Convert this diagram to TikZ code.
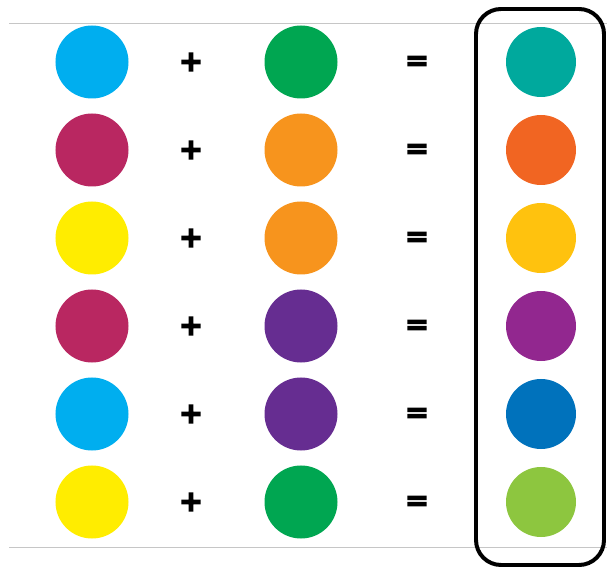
\documentclass[tikz,border=0pt]{standalone}
\usepackage{fontspec}
\newfontfamily\signfont[FakeBold=5]{DejaVu Sans Bold}
\usetikzlibrary{positioning}
\definecolor{skyblue}{RGB}{0,174,239}
\definecolor{leafgreen}{RGB}{0,166,81}
\definecolor{tealmix}{RGB}{0,169,157}
\definecolor{crimson}{RGB}{185,39,97}
\definecolor{tangerine}{RGB}{247,148,29}
\definecolor{redorange}{RGB}{241,101,34}
\definecolor{lemon}{RGB}{255,237,0}
\definecolor{amber}{RGB}{255,194,14}
\definecolor{grape}{RGB}{102,45,145}
\definecolor{violetmix}{RGB}{146,39,143}
\definecolor{royal}{RGB}{0,114,188}
\definecolor{limemix}{RGB}{141,198,63}

\begin{document}
\begin{tikzpicture}[x=0.03cm,y=-0.03cm,
    dot/.style={circle,inner sep=0pt,minimum size=2.19cm},
    mixdot/.style={circle,inner sep=0pt,minimum size=2.1cm},
    sign/.style={inner sep=0pt,font=\signfont\fontsize{24}{24}\selectfont}]
  \useasboundingbox (0,0) rectangle (607,568);
  % thin rules
  \draw[gray!45,line width=0.7pt] (9,23) -- (607,23);
  \draw[gray!45,line width=0.7pt] (9,547) -- (607,547);
  % rows of mixes
  \foreach \a/\b/\c [count=\i] in {skyblue/leafgreen/tealmix,crimson/tangerine/redorange,lemon/tangerine/amber,crimson/grape/violetmix,skyblue/grape/royal,lemon/leafgreen/limemix}{
    \node[dot,fill=\a] (a\i) at (92,{62+88*(\i-1)}) {};
    \node[sign] (plus\i) at (191,{62+88*(\i-1)}) {+};
    \node[dot,fill=\b] (b\i) at (301,{62+88*(\i-1)}) {};
    \node[sign] (eq\i) at (417,{63+88*(\i-1)}) {=};
    \node[mixdot,fill=\c] (c\i) at (541,{62+88*(\i-1)}) {};
  }
  % frame round the results
  \draw[line width=3.4pt,rounded corners=0.75cm] (476,9) rectangle (604,565);
\end{tikzpicture}
\end{document}
